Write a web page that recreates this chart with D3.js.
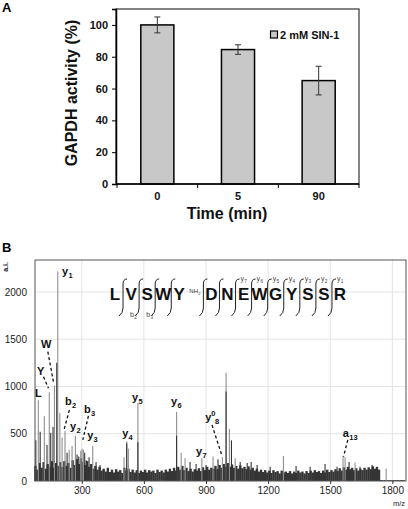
<!DOCTYPE html>
<html><head><meta charset="utf-8">
<script src="https://cdn.jsdelivr.net/npm/d3@7"></script>
<style>body{margin:0;background:#fff}svg{display:block;font-family:Arial,"Liberation Sans",sans-serif}</style>
</head><body><svg id="c" width="408" height="509"></svg>
<script>
// ---------- Panel A data ----------
const times = ["0", "5", "90"];
const activity = [100, 84.5, 65];
const activityErr = [5, 3, 9];
const yTicksA = [0, 20, 40, 60, 80, 100];
const legendLabel = "2 mM SIN-1";

// ---------- Panel B data ----------
const mzTicks = [300, 600, 900, 1200, 1500, 1800];
const aiTicks = [0, 500, 1000, 1500, 2000];
// baseline "grass" intensities, one value per 10 m/z starting at m/z 75
const grassStart = 75, grassStep = 10;
const grass = [
160,120,190,140,200,130,180,150,210,140,190,160,200,
150,210,160,190,140,220,170,230,180,240,200,170,210,150,180,130,160,120,150,110,
130,100,140,95,120,90,125,100,115,85,140,110,130,95,120,90,115,85,110,95,120,90,115,100,110,85,120,95,110,90,
120,100,130,105,140,110,150,120,160,115,140,105,130,100,125,110,135,105,145,115,150,120,140,130,160,125,170,140,180,150,
190,150,175,140,160,130,165,135,150,125,155,120,140,110,130,100,120,95,115,90,110,85,115,95,105,80,110,90,100,85,
105,80,100,85,110,90,100,80,105,85,110,90,115,95,105,85,110,90,120,95,115,100,125,105,135,110,145,120,150,125,
140,115,135,110,130,115,140,120,145,125,155,130,150,120,
10,8,10,8,9,8,10,8,9,8,10,8
];
const peaksLight = [
[90,855],[119,685],[143,940],[168,1010],[184,2220],[194,720],[205,460],[219,530],[239,330],[253,370],
[269,480],[295,320],[301,340],[308,330],[353,370],[504,250],[517,420],[525,340],[571,826],[758,731],
[780,300],[799,240],[880,240],[934,260],[979,250],[997,1144],[1013,551],[1041,240],[1274,265],
[1562,262],[1572,250],[1620,195],[1770,131]
];
const peaksDark = [
[78,430],[99,520],[132,380],[150,510],[161,572],[179,1250],[229,300],[277,280],[285,260],[314,300],
[321,220],[335,250],[369,200],[388,170],[517,400],[571,410],[758,480],[823,200],[852,180],[900,170],
[958,230],[997,947],[1023,430],[1065,200],[1099,190],[1118,200],[1147,170],[1210,150],[1335,160],
[1403,150],[1475,180],[1533,150],[1591,200],[1644,150],[1702,170]
];
// peak annotations: label anchor in (m/z, intensity)
const annotations = [
  {main:"y", sub:"1", mz:205, ai:2179},
  {main:"W", mz:103, ai:1407},
  {main:"Y", mz:84, ai:1121},
  {main:"L", mz:74, ai:889},
  {main:"b", sub:"2", mz:219, ai:804},
  {main:"y", sub:"2", mz:243, ai:540},
  {main:"b", sub:"3", mz:311, ai:719},
  {main:"y", sub:"3", mz:326, ai:444},
  {main:"y", sub:"4", mz:495, ai:465},
  {main:"y", sub:"5", mz:543, ai:846},
  {main:"y", sub:"6", mz:731, ai:804},
  {main:"y", sub:"7", mz:852, ai:275},
  {main:"y", sup:"0", sub:"8", mz:896, ai:635},
  {main:"a", sub:"13", mz:1561, ai:465}
];
const leaders = [
  [[136,1368],[163,1050]],
  [[115,1103],[139,981]],
  [[240,751],[214,540]],
  [[332,688],[305,434]],
  [[929,592],[976,275]],
  [[1585,434],[1564,257]]
];
// peptide sequence
const residues = ["L","V","S","W","Y","D","N","E","W","G","Y","S","S","R"];
const modification = {after:4, text:"NH", sub:"2"};
const bIons = [{after:1, label:"2"}, {after:2, label:"3"}];
const yIons = [{after:6, label:"7"},{after:7, label:"6"},{after:8, label:"5"},{after:9, label:"4"},{after:10, label:"3"},{after:11, label:"2"},{after:12, label:"1"}];

const svg = d3.select("#c");

function rich(g, x, y, o, fs, weight, fill) {
  const t = g.append("text").attr("x", x).attr("y", y)
    .attr("font-size", fs).attr("font-weight", weight || "bold").attr("fill", fill || "#111");
  t.append("tspan").text(o.main);
  let shift = 0;
  if (o.sup) { t.append("tspan").attr("dy", -fs*0.45).attr("font-size", fs*0.68).text(o.sup); shift = -fs*0.45; }
  if (o.sub) { t.append("tspan").attr("dy", fs*0.3 - shift).attr("dx", o.sup ? -0.5 : 0.3).attr("font-size", fs*0.68).text(o.sub); }
  return t;
}

// ================= Panel A =================
const A = {l:116, r:359, t:9, b:184};
const xA = d3.scaleBand().domain(times).range([A.l + 1, A.r]).paddingInner(0.59).paddingOuter(0.295);
const yA = d3.scaleLinear().domain([0, 110]).range([A.b, A.t]);
const gA = svg.append("g");

svg.append("text").attr("x", 2).attr("y", 12).attr("font-size", 13).attr("font-weight", "bold").text("A");

gA.append("rect").attr("x", A.l).attr("y", A.t).attr("width", A.r - A.l).attr("height", A.b - A.t)
  .attr("fill", "none").attr("stroke", "#333").attr("stroke-width", 1.2);

gA.selectAll("rect.bar").data(times).join("rect").attr("class", "bar")
  .attr("x", d => xA(d)).attr("width", xA.bandwidth())
  .attr("y", (d, i) => yA(activity[i])).attr("height", (d, i) => yA(0) - yA(activity[i]))
  .attr("fill", "#c8c8c8").attr("stroke", "#000").attr("stroke-width", 1.5);

const eb = gA.selectAll("g.err").data(times).join("g").attr("class", "err")
  .attr("stroke", "#333").attr("stroke-width", 1);
eb.append("line").attr("x1", d => xA(d) + xA.bandwidth()/2).attr("x2", d => xA(d) + xA.bandwidth()/2)
  .attr("y1", (d, i) => yA(activity[i] + activityErr[i])).attr("y2", (d, i) => yA(activity[i] - activityErr[i]));
eb.append("line").attr("x1", d => xA(d) + xA.bandwidth()/2 - 3).attr("x2", d => xA(d) + xA.bandwidth()/2 + 3)
  .attr("y1", (d, i) => yA(activity[i] + activityErr[i])).attr("y2", (d, i) => yA(activity[i] + activityErr[i]));
eb.append("line").attr("x1", d => xA(d) + xA.bandwidth()/2 - 3).attr("x2", d => xA(d) + xA.bandwidth()/2 + 3)
  .attr("y1", (d, i) => yA(activity[i] - activityErr[i])).attr("y2", (d, i) => yA(activity[i] - activityErr[i]));

const yAxA = gA.append("g").attr("transform", `translate(${A.l},0)`)
  .call(d3.axisLeft(yA).tickValues(yTicksA).tickSize(4).tickPadding(4));
yAxA.select(".domain").attr("stroke", "#000").attr("stroke-width", 1.5);
yAxA.selectAll("text").attr("font-size", 11).attr("font-weight", "bold").attr("fill", "#111").attr("font-family", "Arial, Liberation Sans, sans-serif");

// bottom axis line with ticks at band boundaries
gA.append("line").attr("x1", A.l).attr("x2", A.r).attr("y1", A.b).attr("y2", A.b).attr("stroke", "#000").attr("stroke-width", 1.5);
const bounds = [xA.range()[0]].concat(times.map(d => xA(d) + xA.bandwidth() + xA.step()*xA.paddingInner()/2));
bounds[bounds.length-1] = A.r;
gA.selectAll("line.bt").data(bounds).join("line").attr("class", "bt")
  .attr("x1", d => d).attr("x2", d => d).attr("y1", A.b).attr("y2", A.b + 4).attr("stroke", "#000").attr("stroke-width", 1);
gA.selectAll("text.xl").data(times).join("text").attr("class", "xl")
  .attr("x", d => xA(d) + xA.bandwidth()/2).attr("y", 200).attr("text-anchor", "middle")
  .attr("font-size", 11).attr("font-weight", "bold").attr("fill", "#111").text(d => d);

gA.append("text").attr("transform", "translate(77,93) rotate(-90)").attr("text-anchor", "middle")
  .attr("font-size", 16).attr("font-weight", "bold").attr("fill", "#111").text("GAPDH activity (%)");
gA.append("text").attr("x", 227).attr("y", 219).attr("text-anchor", "middle")
  .attr("font-size", 16).attr("font-weight", "bold").attr("fill", "#111").text("Time (min)");

gA.append("rect").attr("x", 270.5).attr("y", 31).attr("width", 7).attr("height", 7)
  .attr("fill", "#c8c8c8").attr("stroke", "#000").attr("stroke-width", 1.2);
gA.append("text").attr("x", 280).attr("y", 38.5).attr("font-size", 11).attr("font-weight", "bold").attr("fill", "#111").text(legendLabel);

// ================= Panel B =================
const B = {l:35, r:406, t:260, b:481};
const xB = d3.scaleLinear().domain([74, 1866]).range([B.l, B.r]);
const yB = d3.scaleLinear().domain([0, 2338]).range([B.b, B.t]);
const gB = svg.append("g");

svg.append("text").attr("x", 2).attr("y", 252).attr("font-size", 13).attr("font-weight", "bold").text("B");

// grid
gB.selectAll("line.gv").data(mzTicks).join("line").attr("class", "gv")
  .attr("x1", d => xB(d)).attr("x2", d => xB(d)).attr("y1", B.t).attr("y2", B.b).attr("stroke", "#e4e4e4");
gB.selectAll("line.gh").data(aiTicks.slice(1)).join("line").attr("class", "gh")
  .attr("x1", B.l).attr("x2", B.r).attr("y1", d => yB(d)).attr("y2", d => yB(d)).attr("stroke", "#e4e4e4");

// grass
gB.append("g").selectAll("rect").data(grass).join("rect")
  .attr("x", (d, i) => xB(grassStart + i*grassStep - grassStep/2))
  .attr("width", (d, i) => xB(grassStart + i*grassStep + grassStep/2) - xB(grassStart + i*grassStep - grassStep/2) + 0.3)
  .attr("y", d => yB(d)).attr("height", d => yB(0) - yB(d)).attr("fill", "#353535");

gB.append("g").selectAll("line").data(peaksLight).join("line")
  .attr("x1", d => xB(d[0])).attr("x2", d => xB(d[0])).attr("y1", yB(0)).attr("y2", d => yB(d[1]))
  .attr("stroke", "#8f8f8f").attr("stroke-width", 1.1);
gB.append("g").selectAll("line").data(peaksDark).join("line")
  .attr("x1", d => xB(d[0])).attr("x2", d => xB(d[0])).attr("y1", yB(0)).attr("y2", d => yB(d[1]))
  .attr("stroke", "#333").attr("stroke-width", 1.1);

// frame
gB.append("rect").attr("x", B.l).attr("y", B.t).attr("width", B.r - B.l).attr("height", B.b - B.t)
  .attr("fill", "none").attr("stroke", "#555").attr("stroke-width", 1);

// axes
const xAxB = gB.append("g").attr("transform", `translate(0,${B.b})`)
  .call(d3.axisBottom(xB).tickValues(mzTicks).tickFormat(d3.format("d")).tickSize(3).tickPadding(3));
xAxB.select(".domain").remove();
xAxB.selectAll("line").attr("stroke", "#333");
xAxB.selectAll("text").attr("font-size", 10).attr("fill", "#222").attr("font-family", "Arial, Liberation Sans, sans-serif");
const yAxB = gB.append("g").attr("transform", `translate(${B.l},0)`)
  .call(d3.axisLeft(yB).tickValues(aiTicks).tickFormat(d3.format("d")).tickSize(0).tickPadding(8));
yAxB.select(".domain").remove();
yAxB.selectAll("text").attr("font-size", 10).attr("fill", "#222").attr("font-family", "Arial, Liberation Sans, sans-serif");

gB.append("text").attr("transform", "translate(8,267) rotate(-90)").attr("text-anchor", "middle")
  .attr("font-size", 7).attr("font-weight", "bold").attr("fill", "#222").text("a.i.");
gB.append("text").attr("x", 393).attr("y", 506).attr("font-size", 7.5).attr("fill", "#222").text("m/z");

// annotations
annotations.forEach(a => rich(gB, xB(a.mz), yB(a.ai), a, 11, "bold", "#111"));
gB.selectAll("line.ld").data(leaders).join("line").attr("class", "ld")
  .attr("x1", d => xB(d[0][0])).attr("y1", d => yB(d[0][1]))
  .attr("x2", d => xB(d[1][0])).attr("y2", d => yB(d[1][1]))
  .attr("stroke", "#111").attr("stroke-width", 1.3).attr("stroke-dasharray", "3,2.5");

// peptide sequence
const nSlots = residues.length + 1;
const slotOf = i => i <= modification.after ? i : i + 1;
const xs = d3.scalePoint().domain(d3.range(nSlots)).range([115, 340]);
const seqBase = 300;
const gS = gB.append("g");
gS.selectAll("text.res").data(residues).join("text").attr("class", "res")
  .attr("x", (d, i) => xs(slotOf(i))).attr("y", seqBase).attr("text-anchor", "middle")
  .attr("font-size", 17).attr("font-weight", "bold").attr("fill", "#111").text(d => d);
rich(gS, xs(modification.after + 1) - 6, seqBase - 7, {main: modification.text, sub: modification.sub}, 6, "normal", "#333");

const bracketX = i => (xs(slotOf(i + 1)) + (i === modification.after ? xs(slotOf(i + 1) - 1) : xs(slotOf(i)))) / 2;
const brackets = d3.range(residues.length - 1);
gS.selectAll("path.br").data(brackets).join("path").attr("class", "br")
  .attr("d", i => { const c = bracketX(i); return `M${c+4},279 Q${c},279 ${c},284 L${c},308 Q${c},313 ${c-4},316`; })
  .attr("fill", "none").attr("stroke", "#222").attr("stroke-width", 1);
bIons.forEach(b => rich(gS, bracketX(b.after) - 9, 317, {main:"b", sub:b.label}, 7, "normal", "#444"));
yIons.forEach(y => rich(gS, bracketX(y.after) + 5, 281, {main:"y", sub:y.label}, 7, "normal", "#444"));
</script></body></html>
